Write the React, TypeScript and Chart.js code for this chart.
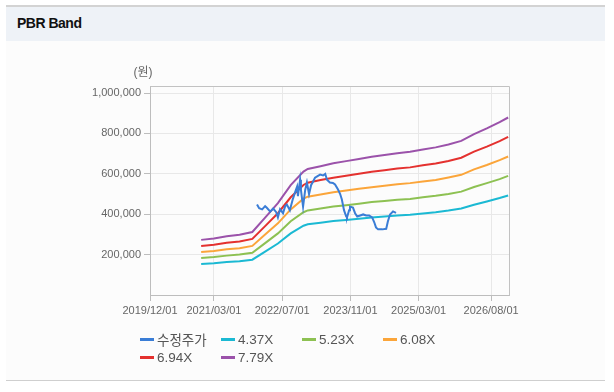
import React, { useEffect, useRef } from "react";
import { Chart, registerables } from "chart.js";

Chart.register(...registerables);

// x axis: months counted from 2019/12/01
const xTickMonths = [0, 15, 31, 47, 63, 80];
const xTickLabels = ["2019/12/01", "2021/03/01", "2022/07/01", "2023/11/01", "2025/03/01", "2026/08/01"];
const yTickValues = [200000, 400000, 600000, 800000, 1000000];

const seriesNames = ["수정주가", "4.37X", "5.23X", "6.08X", "6.94X", "7.79X"];
const seriesColors = ["#3a7dd6", "#1bb9d3", "#8dc152", "#fba53a", "#e4312f", "#9b52aa"];

const priceMonths = [
  25.1, 25.6, 26.3, 27.0, 27.4, 28.2, 28.9, 29.6, 30.0, 30.5, 31.2, 31.7, 32.1, 32.8, 33.5, 34.0, 34.5, 34.7,
  35.2, 35.4, 35.9, 36.4, 36.8, 37.3, 37.8, 38.2, 38.7, 39.4, 39.9, 40.6, 41.1, 41.5, 42.2, 42.9, 43.4, 44.1,
  44.6, 45.0, 45.5, 46.0, 46.2, 46.7, 46.9, 47.6, 48.1, 48.6, 49.3, 50.0, 50.7, 51.4, 52.1, 52.6, 53.0, 53.5,
  54.5, 55.4, 55.8, 56.3, 57.0, 57.7,
];
const priceValues = [
  448000, 430000, 424000, 440000, 432000, 413000, 428000, 410000, 384000, 425000, 405000, 440000, 448000, 420000,
  475000, 507000, 537000, 490000, 571000, 520000, 438000, 520000, 557000, 500000, 545000, 560000, 581000, 590000,
  596000, 592000, 600000, 571000, 557000, 555000, 547000, 522000, 500000, 473000, 420000, 390000, 384000, 420000,
  438000, 433000, 405000, 389000, 394000, 399000, 394000, 394000, 384000, 360000, 335000, 325000, 325000, 328000,
  365000, 399000, 414000, 407000,
];

const bandMonths = [12, 15, 18, 21, 24, 27, 30, 33, 36, 37, 40, 43, 46, 49, 52, 55, 58, 61, 64, 67, 70, 73, 76, 79, 82, 84];
const band437 = [153000, 157000, 163000, 167000, 175000, 215000, 255000, 305000, 343000, 350000, 358000, 366000, 372000, 378000, 384000, 389000, 394000, 398000, 404000, 410000, 418000, 428000, 447000, 463000, 480000, 493000];
const band523 = [183000, 188000, 195000, 200000, 209000, 257000, 305000, 365000, 410000, 419000, 428000, 438000, 445000, 452000, 460000, 466000, 472000, 476000, 484000, 491000, 500000, 512000, 535000, 554000, 574000, 590000];
const band608 = [213000, 218000, 227000, 232000, 243000, 299000, 355000, 424000, 477000, 487000, 498000, 509000, 518000, 526000, 534000, 541000, 548000, 554000, 562000, 570000, 582000, 595000, 622000, 644000, 668000, 686000];
const band694 = [243000, 249000, 259000, 265000, 278000, 341000, 405000, 484000, 545000, 556000, 569000, 581000, 591000, 600000, 610000, 618000, 626000, 632000, 642000, 651000, 664000, 680000, 710000, 735000, 762000, 783000];
const band779 = [273000, 280000, 291000, 298000, 312000, 383000, 455000, 544000, 611000, 624000, 638000, 652000, 663000, 674000, 685000, 693000, 702000, 709000, 720000, 731000, 745000, 763000, 797000, 825000, 856000, 879000];

const FONT = "'Liberation Sans', Arial, 'Noto Sans CJK KR', sans-serif";

export default function App() {
  const canvasRef = useRef<HTMLCanvasElement | null>(null);

  useEffect(() => {
    const canvas = canvasRef.current;
    if (!canvas) return;
    const toPts = (xs: number[], ys: number[]) => xs.map((x, i) => ({ x, y: ys[i] }));
    const bands = [band437, band523, band608, band694, band779];
    const datasets: any[] = [
      {
        label: seriesNames[0],
        data: toPts(priceMonths, priceValues),
        borderColor: seriesColors[0],
        backgroundColor: seriesColors[0],
        borderWidth: 2,
        pointRadius: 0,
        tension: 0,
        fill: false,
      },
      ...bands.map((b, i) => ({
        label: seriesNames[i + 1],
        data: toPts(bandMonths, b),
        borderColor: seriesColors[i + 1],
        backgroundColor: seriesColors[i + 1],
        borderWidth: 2,
        pointRadius: 0,
        tension: 0,
        fill: false,
      })),
    ];

    const framePlugin = {
      id: "frame",
      beforeDatasetsDraw(chart: any) {
        const { ctx, chartArea } = chart;
        ctx.save();
        ctx.strokeStyle = "#c2c2c2";
        ctx.lineWidth = 1;
        ctx.beginPath();
        ctx.moveTo(Math.round(chartArea.left) + 0.5, Math.round(chartArea.top) + 0.5);
        ctx.lineTo(Math.round(chartArea.right) + 0.5, Math.round(chartArea.top) + 0.5);
        ctx.lineTo(Math.round(chartArea.right) + 0.5, Math.round(chartArea.bottom) + 0.5);
        ctx.stroke();
        ctx.restore();
      },
      afterDraw(chart: any) {
        const { ctx, chartArea } = chart;
        ctx.save();
        ctx.fillStyle = "#666";
        ctx.font = "12px " + FONT;
        ctx.textAlign = "center";
        ctx.textBaseline = "middle";
        ctx.fillText("(원)", chartArea.left - 7, chartArea.top - 13);
        ctx.restore();
      },
    };

    const chart = new Chart(canvas, {
      type: "line",
      data: { datasets },
      options: {
        animation: false,
        responsive: false,
        maintainAspectRatio: false,
        layout: { padding: { top: 44, right: 96, left: 0, bottom: 0 } },
        plugins: { legend: { display: false }, tooltip: { enabled: false } },
        scales: {
          x: {
            type: "linear",
            min: 0,
            max: 84.2,
            afterBuildTicks: (s: any) => {
              s.ticks = xTickMonths.map((v) => ({ value: v }));
            },
            afterFit: (s: any) => {
              s.height = 85;
            },
            ticks: {
              autoSkip: false,
              maxRotation: 0,
              minRotation: 0,
              padding: 3,
              color: "#666",
              font: { size: 11, family: FONT },
              callback: (_v: any, i: number) => xTickLabels[i],
            },
            grid: { color: "#e8e8e8", tickColor: "#bdbdbd", tickLength: 6, drawTicks: true },
            border: { color: "#bdbdbd" },
          },
          y: {
            type: "linear",
            min: 0,
            max: 1035000,
            afterBuildTicks: (s: any) => {
              s.ticks = yTickValues.map((v) => ({ value: v }));
            },
            afterFit: (s: any) => {
              s.width = 144;
            },
            ticks: {
              padding: 3,
              color: "#666",
              font: { size: 11, family: FONT },
              callback: (v: any) => Number(v).toLocaleString("en-US"),
            },
            grid: { color: "#e8e8e8", tickColor: "#bdbdbd", tickLength: 6, drawTicks: true },
            border: { color: "#bdbdbd" },
          },
        },
      } as any,
      plugins: [framePlugin],
    });
    return () => chart.destroy();
  }, []);

  return (
    <div style={{ position: "fixed", left: 0, top: 0, width: 614, height: 392, background: "#fff", fontFamily: FONT }}>
      <div
        style={{
          position: "absolute",
          left: 6,
          top: 5,
          width: 599,
          height: 36,
          background: "#eef2f7",
          borderTop: "2px solid #d3d3d3",
          boxSizing: "border-box",
        }}
      >
        <div
          style={{
            position: "absolute",
            left: 11,
            top: 7,
            fontSize: 14,
            fontWeight: "bold",
            color: "#111",
            letterSpacing: -0.5,
            lineHeight: "18px",
          }}
        >
          PBR Band
        </div>
      </div>
      <div
        style={{
          position: "absolute",
          left: 6,
          top: 41,
          width: 599,
          height: 340,
          background: "#fcfcfc",
          borderBottom: "1px solid #cfcfcf",
          boxSizing: "border-box",
        }}
      >
        <canvas ref={canvasRef} width={599} height={338} style={{ position: "absolute", left: 0, top: 1, width: 599, height: 338 }} />
      </div>
      <div
        style={{
          position: "absolute",
          left: 140,
          top: 330,
          width: 330,
          display: "flex",
          flexWrap: "wrap",
        }}
      >
        {seriesNames.map((name, i) => (
          <div key={name} style={{ width: 81, height: 18, display: "flex", alignItems: "center" }}>
            <span style={{ display: "inline-block", width: 14, height: 3, background: seriesColors[i], marginRight: 3 }} />
            <span style={{ fontSize: 13.5, color: "#555", whiteSpace: "nowrap" }}>{name}</span>
          </div>
        ))}
      </div>
    </div>
  );
}
